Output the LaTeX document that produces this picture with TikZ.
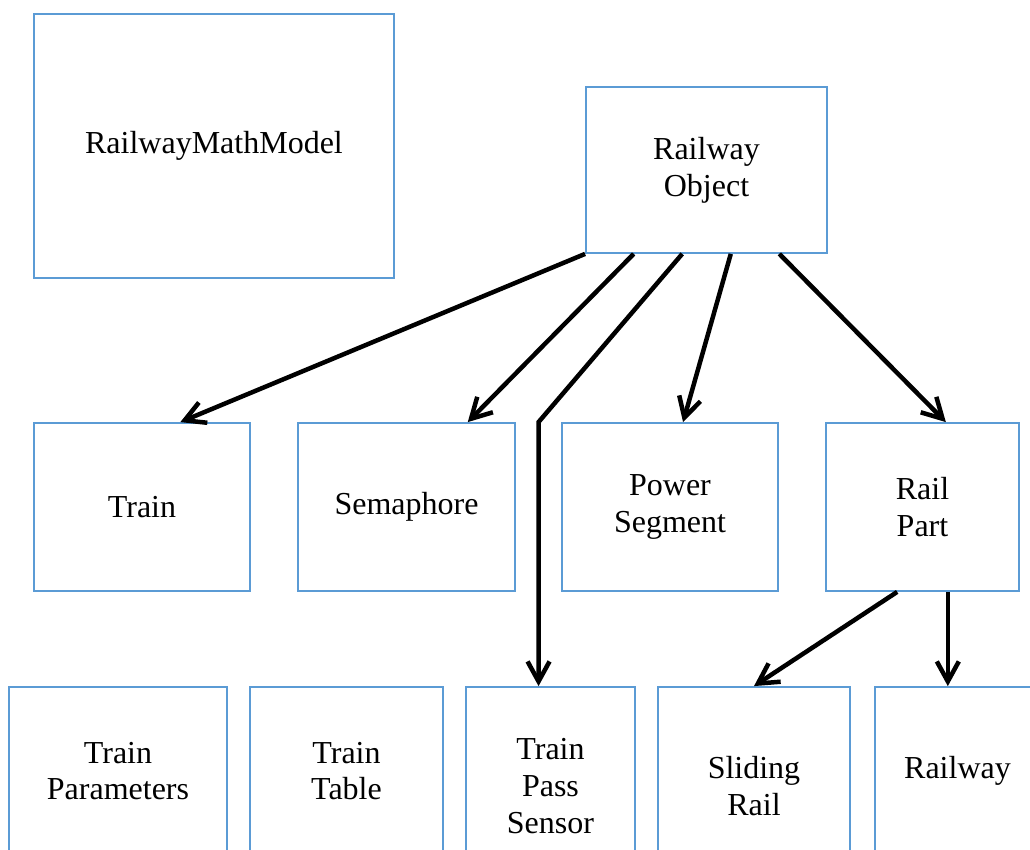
\documentclass[tikz,border=0pt]{standalone}
\usepackage{fontspec}
\setmainfont{Liberation Serif}
\usepackage{xcolor}
\usepackage{tikz}
\usetikzlibrary{arrows.meta,calc}
\definecolor{boxblue}{HTML}{5B9BD5}

\begin{document}
\begin{tikzpicture}[x=0.5pt, y=-0.5pt,
  blk/.style={draw=boxblue, line width=0.9pt, align=center, inner sep=2pt,
    font=\fontsize{16}{18.4}\selectfont},
  arr/.style={line width=2.25pt, -{Straight Barb[length=10pt,width=11pt]}}]
  \clip (0,0) rectangle (1030,850);
  % top row
  \node[blk, minimum width=180pt, minimum height=132pt] (rmm) at (214,146) {RailwayMathModel};
  \node[blk, minimum width=120.5pt, minimum height=83pt] (ro) at (706.5,170) {Railway\\Object};
  % middle row
  \node[blk, minimum width=108pt, minimum height=84pt] (train) at (142,507) {Train};
  \node[blk, minimum width=108.5pt, minimum height=84pt] (sema) at (406.5,507) {Semaphore};
  \node[blk, minimum width=108pt, minimum height=84pt] (pseg) at (670,507) {Power\\Segment};
  \node[blk, minimum width=96.5pt, minimum height=84pt] (rpart) at (922.5,507) {Rail\\Part};
  % bottom row (cut by the page edge)
  \node[blk, minimum width=109pt, minimum height=84pt] (tparam) at (118,771) {Train\\Parameters};
  \node[blk, minimum width=96.5pt, minimum height=84pt] (ttable) at (346.5,771) {Train\\Table};
  \node[blk, minimum width=84.5pt, minimum height=99pt] (tpass) at (550.5,786) {Train\\Pass\\Sensor};
  \node[blk, minimum width=96pt, minimum height=99pt] (slide) at (754,786) {Sliding\\Rail};
  \node[blk, minimum width=82.5pt, minimum height=84pt] (rway) at (957.5,771) {Railway};
  % inheritance arrows
  \foreach \f/\t/\g in {0/train/0.676, 0.2/sema/0.78, 0.6/pseg/0.56, 0.8/rpart/0.62}{
    \draw[arr] ($(ro.south west)!\f!(ro.south east)$) -- ($(\t.north west)!\g!(\t.north east)$);
  }
  \coordinate (tpsin) at ($(tpass.north west)!0.43!(tpass.north east)$);
  \draw[arr] ($(ro.south west)!0.4!(ro.south east)$) -- (tpsin |- train.north) -- (tpsin);
  \draw[arr] ($(rpart.south west)!0.37!(rpart.south east)$) -- (slide.north);
  \coordinate (rdown) at ($(rpart.south west)!0.63!(rpart.south east)$);
  \draw[arr] (rdown) -- (rdown |- rway.north);
\end{tikzpicture}
\end{document}
